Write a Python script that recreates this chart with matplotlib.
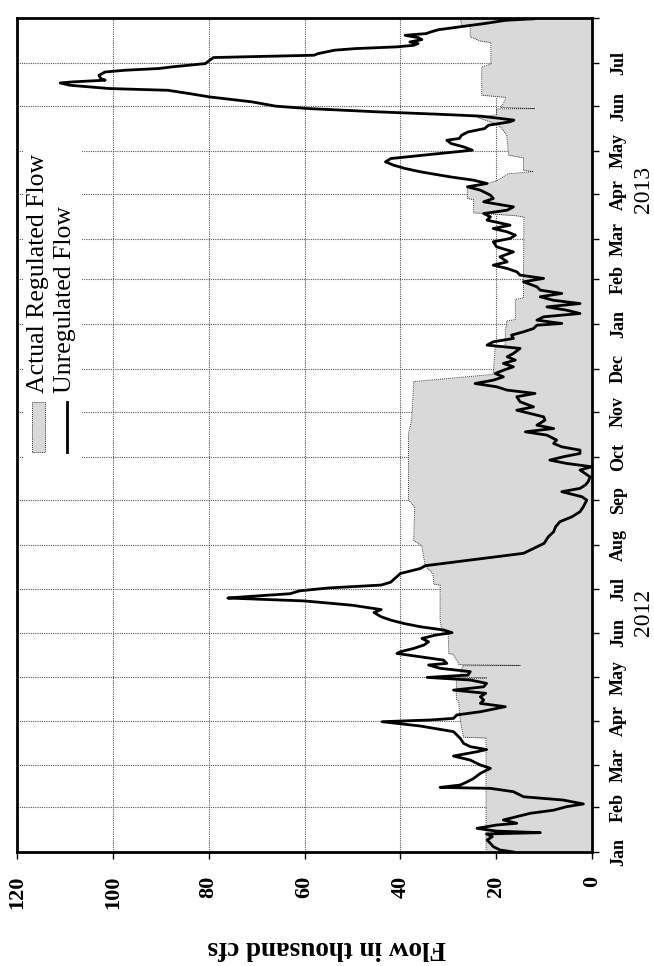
import numpy as np
import pandas as pd
import matplotlib
matplotlib.use("Agg")
import matplotlib.pyplot as plt
from matplotlib.patches import Rectangle
from matplotlib.lines import Line2D
import matplotlib.transforms as mtransforms

# ---------------------------------------------------------------------------
# Data: days counted from 1 Jan 2012, flows in thousand cfs
# ---------------------------------------------------------------------------
START = np.datetime64("2012-01-01T00:00")
END = np.datetime64("2013-08-01T00:00")

unreg_day = [
    0, 1.4, 3.7, 6, 8.3, 10.6, 12.5, 13.4, 14.5, 16.4, 18.7, 19.9, 22.2, 24.5,
    26.8, 29, 31.4, 33.3, 36, 38.3, 41.8, 44.1, 44.8, 46.4, 48.7, 51, 54.5, 58,
    60.3, 63.7, 66.5, 69.5, 71, 73, 75.3, 78.8, 83.4, 87.3, 90.3, 91.5, 92.6,
    95, 97.2, 100.7, 103, 105.3, 107.6, 110, 112.2, 114.5, 116.9, 119.2, 121,
    122.6, 125, 127.3, 129.6, 130.7, 133, 135.3, 137.6, 138.8, 141.1, 143.4,
    145.7, 148, 150.3, 152, 153.8, 156.1, 158.4, 160.7, 163, 166, 168, 171,
    174, 176, 177, 179, 181, 183, 185, 187, 190, 193, 196.5, 198.4, 207,
    211.5, 213.9, 218.5, 222, 225.4, 228.9, 232.3, 235.8, 239.3, 243.9, 246.2,
    249.7, 252, 254.3, 256.6, 260, 264.7, 267, 269.3, 271.6, 273.9, 276.2,
    278.5, 280.8, 283.1, 285.5, 288.9, 291.2, 293.5, 295.8, 299.3, 301.6,
    303.9, 306.2, 308.5, 312, 315.5, 317.8, 320.1, 322.4, 324.7, 327, 329.3,
    331.6, 333.9, 336.3, 338.6, 340.9, 343.2, 345.5, 349, 351.3, 353.6, 355.9,
    358.2, 360.5, 362.8, 365.1, 366.3, 368.6, 370.9, 373.2, 375.5, 377.8,
    380.1, 382.4, 384.8, 387.1, 389.4, 391.7, 395.2, 397.5, 399.8, 402.1,
    404.4, 406.7, 409, 412.5, 415.9, 419.4, 422.9, 425.2, 427.5, 429.8, 432.1,
    434.4, 437.9, 440.2, 442.5, 444.8, 447.1, 450.6, 452.9, 455.2, 458.7, 461,
    463.3, 465.6, 467.9, 471.4, 473.7, 476, 478.3, 480.6, 481.8, 484.1, 486.4,
    488.7, 491, 493.3, 494.5, 496.8, 499, 501.4, 503.7, 506, 507.2, 508.3, 510,
    511.3, 513, 515.2, 516.9, 519.9, 522.2, 523.3, 525.6, 527.9, 529.1, 531.4,
    533, 533.7, 534.9, 536, 538.3, 540.6, 541.8, 543, 544.1, 546.4, 548.7,
    550.6, 552.2, 553.3, 555.7, 556.8, 558, 559.1, 560.3, 561.4, 563, 564.4,
    566, 567.2, 568.3, 569.9, 571.8, 574.1, 576.4, 577.5, 578,
]
unreg_flow = [
    16.4, 19.2, 20.6, 21.2, 21.9, 20.8, 22.0, 10.8, 20.0, 24.0, 19.9, 15.7,
    18.5, 15.7, 12.9, 8.0, 5.3, 1.8, 6.0, 14.3, 16.4, 21.2, 31.7, 27.5, 26.0,
    24.7, 23.3, 21.2, 23.3, 25.4, 28.9, 24.0, 22.0, 25.4, 26.8, 27.5, 28.9,
    35.8, 43.8, 33.7, 28.9, 28.2, 23.3, 18.1, 23.3, 22.6, 23.3, 22.2, 28.9,
    22.6, 22.0, 25.4, 34.4, 25.9, 25.4, 31.7, 34.1, 30.3, 31.0, 35.8, 40.7,
    40.0, 37.2, 35.1, 34.1, 35.5, 32.7, 29.2, 30.9, 35.8, 39.3, 42.0, 44.0,
    45.5, 44.0, 50.0, 60.0, 76.0, 72.0, 63.0, 61.0, 55.0, 44.0, 42.0, 41.0,
    40.0, 35.8, 34.8, 14.3, 11.5, 10.0, 9.1, 8.0, 7.6, 6.7, 4.2, 2.5, 1.8,
    1.1, 2.1, 6.3, 2.5, 1.4, 0.8, 0.4, 2.5, 0.1, 5.3, 8.8, 6.0, 2.5, 2.5, 6.3,
    8.0, 7.4, 9.4, 13.9, 8.0, 11.5, 9.8, 10.1, 12.9, 15.7, 12.2, 15.0, 15.7,
    11.9, 17.7, 19.9, 24.4, 20.6, 18.5, 20.2, 18.5, 16.4, 18.5, 16.0, 17.7,
    16.4, 15.0, 21.9, 20.6, 16.4, 16.8, 14.3, 12.2, 11.5, 6.3, 11.5, 10.1,
    2.5, 5.3, 9.4, 2.5, 8.1, 10.8, 6.3, 10.8, 11.5, 14.3, 10.1, 15.0, 15.7,
    17.7, 20.6, 17.7, 19.2, 16.4, 19.9, 20.6, 17.1, 16.0, 17.7, 20.6, 17.1,
    21.9, 21.2, 22.6, 17.7, 16.4, 22.6, 20.6, 21.2, 23.3, 26.0, 21.9, 24.7,
    29.6, 35.8, 39.0, 41.4, 43.1, 42.0, 38.5, 32.0, 25.0, 26.8, 29.4, 30.3,
    27.7, 27.2, 25.9, 22.4, 21.6, 17.2, 16.3, 18.9, 23.3, 32.0, 45.0, 59.0,
    66.0, 71.0, 77.0, 79.8, 84.0, 88.5, 100.7, 109.0, 111.0, 108.5, 101.6,
    102.5, 102.9, 101.6, 97.4, 90.4, 87.7, 80.7, 79.8, 79.0, 58.0, 57.2, 53.7,
    49.4, 40.7, 37.2, 36.3, 38.0, 35.5, 36.3, 39.0, 34.6, 33.7, 32.0, 27.7,
    22.6, 18.0, 12.0, 19.0,
]

reg_day = [
    0, 79, 79.5, 86, 92, 104, 106, 120, 120.6, 121.4, 122, 129, 129.3, 129.8,
    130.5, 137, 137.6, 152, 152.6, 161, 185, 185.5, 193, 198, 212, 216, 239,
    244, 290, 300, 326, 331, 350, 351, 363, 364, 368, 369, 383, 384, 399, 440,
    441, 443, 452, 453, 461, 462, 465, 470, 471.5, 472.5, 474, 481, 483, 497,
    504, 509, 511, 515, 515.2, 516, 521, 523, 524.5, 544, 546, 561, 562, 565,
    572, 573, 578,
]
reg_flow = [
    22.1, 22.1, 26.8, 27.2, 27.5, 27.8, 28.3, 28.3, 22.0, 28.0, 27.5, 27.0,
    15.0, 27.8, 27.8, 29.0, 29.9, 30.0, 31.3, 31.7, 31.7, 33.0, 33.2, 34.8,
    35.5, 37.2, 37.0, 38.3, 38.3, 37.6, 37.2, 20.6, 20.2, 18.1, 18.1, 17.8,
    17.8, 16.0, 16.0, 14.3, 14.3, 14.2, 16.0, 24.7, 24.7, 26.0, 26.0, 23.3,
    20.0, 17.5, 12.2, 14.3, 14.3, 14.3, 17.4, 17.8, 19.5, 23.8, 19.9, 19.9,
    11.9, 19.0, 18.1, 18.1, 23.0, 23.0, 21.1, 21.1, 23.3, 25.4, 25.4, 27.2,
    27.5,
]

flow_ticks = [0, 20, 40, 60, 80, 100, 120]
year_labels = ["2012", "2013"]
year_label_dates = ["2012-06-15", "2013-04-04"]

legend_labels = ["Actual Regulated Flow", "Unregulated Flow"]
axis_title = "Flow in thousand cfs"


def to_dates(days):
    minutes = np.round(np.asarray(days, dtype=float) * 1440).astype("timedelta64[m]")
    return START + minutes


SERIF = ["Liberation Serif", "DejaVu Serif"]
plt.rcParams["font.family"] = SERIF

W, H = 654, 966
fig = plt.figure(figsize=(W / 100, H / 100), dpi=100)

# plot box in pixels: left 17, right 592, top 18, bottom 852
L, R, T, B = 17, 592, 18, 852
ax = fig.add_axes([L / W, 1 - B / H, (R - L) / W, (B - T) / H])

unreg_t = to_dates(unreg_day)
reg_t = to_dates(reg_day)

# regulated flow: grey area with a fine dotted outline
ax.fill_betweenx(reg_t, 0, reg_flow, color="#d9d9d9", lw=0, zorder=2)
ax.plot(reg_flow, reg_t, color="#333333", lw=0.7, ls=(0, (1, 1)), zorder=3)

# unregulated flow: heavy black trace
ax.plot(unreg_flow, unreg_t, color="black", lw=2.0, solid_joinstyle="round",
        zorder=4)

ax.set_xlim(120, 0)
ax.set_ylim(START, END)

# horizontal axis (flow)
ax.set_xticks(flow_ticks)
ax.set_xticklabels([str(v) for v in flow_ticks], rotation=90,
                   fontsize=16, fontweight="bold")
ax.tick_params(axis="x", direction="out", length=5, width=1, pad=12,
               bottom=True, top=False)

# vertical axis (months) on the right side
months = pd.date_range("2012-01-01", "2013-08-01", freq="MS")
ax.set_yticks(months.to_numpy())
mlabels = [m.strftime("%b") for m in months]
mlabels[-1] = ""
ax.set_yticklabels(mlabels, rotation=90, va="center", fontsize=13,
                   fontweight="bold")
ax.yaxis.tick_right()
ax.tick_params(axis="y", direction="out", length=5, width=1, pad=8,
               left=False, right=True)

for s in ax.spines.values():
    s.set_linewidth(2)
    s.set_zorder(6)

ax.grid(True, color="#555555", lw=0.8, ls=(0, (1, 1)), zorder=1)
ax.set_axisbelow(True)

# year captions beside the month labels
trans = mtransforms.blended_transform_factory(fig.transFigure, ax.transData)
for lab, d in zip(year_labels, year_label_dates):
    ax.text(643 / W, np.datetime64(d), lab, transform=trans, rotation=90,
            ha="center", va="center", fontsize=17, clip_on=False)

# axis title under the flow ticks, upside down
fig.text(327 / W, 1 - 947 / H, axis_title, rotation=180, ha="center",
         va="center", fontsize=19.5, fontweight="bold")

# legend drawn by hand (white block over the grid, upright rotated entries)
ax.add_patch(Rectangle((23 / W, 1 - 470 / H), (82 - 23) / W, (470 - 140) / H,
                       transform=fig.transFigure, facecolor="white",
                       edgecolor="none", zorder=5))
ax.add_patch(Rectangle((32 / W, 1 - 452 / H), 13 / W, 50 / H,
                       transform=fig.transFigure, facecolor="#d9d9d9",
                       edgecolor="#333333", lw=0.7, ls=(0, (1, 1)), zorder=6))
fig.add_artist(Line2D([67 / W, 67 / W], [1 - 402 / H, 1 - 452 / H],
                      transform=fig.transFigure, color="black", lw=2.0,
                      zorder=6))
fig.text(38 / W, 1 - 393 / H, legend_labels[0], rotation=90, ha="center",
         va="bottom", fontsize=18.5, zorder=7)
fig.text(65 / W, 1 - 393 / H, legend_labels[1], rotation=90, ha="center",
         va="bottom", fontsize=18.5, zorder=7)

fig.savefig("out.png", dpi=100)
